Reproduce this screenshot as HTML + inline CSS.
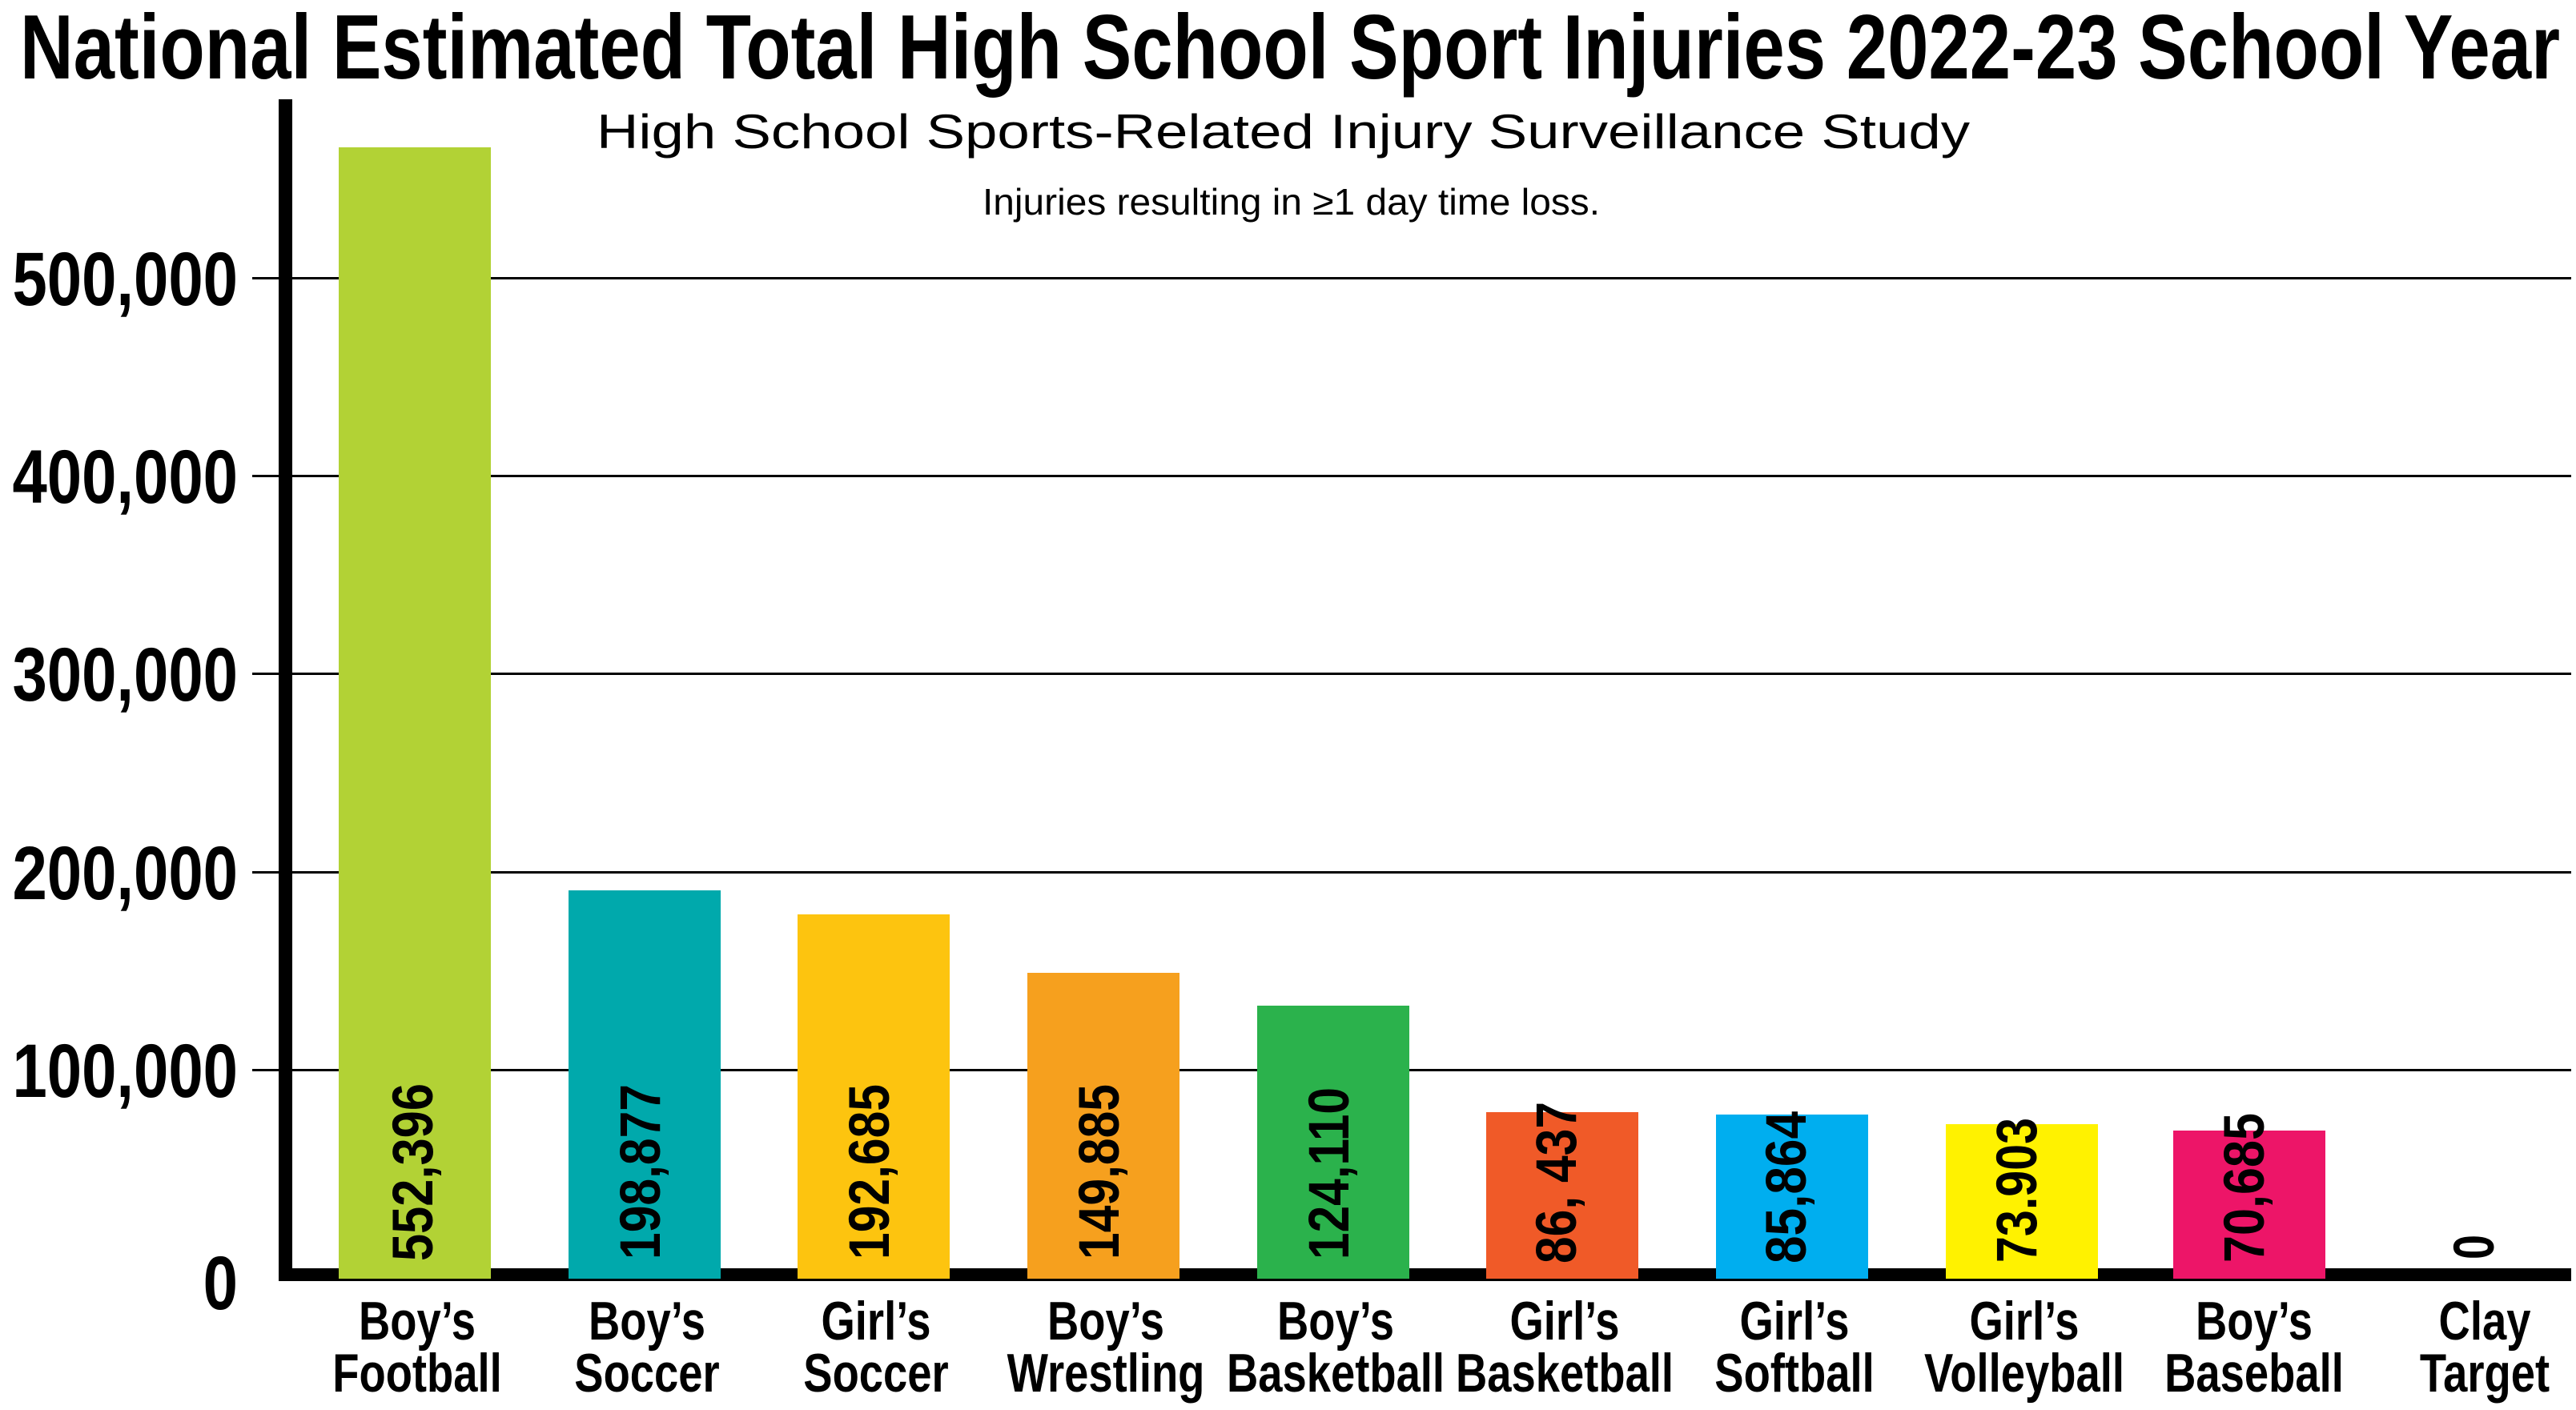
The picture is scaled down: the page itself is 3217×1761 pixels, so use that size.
<!DOCTYPE html>
<html><head><meta charset="utf-8"><style>
html,body{margin:0;padding:0;background:#fff;width:3217px;height:1761px;overflow:hidden}
svg{display:block}
text{font-family:"Liberation Sans",sans-serif}
</style></head><body>
<svg width="3217" height="1761" viewBox="0 0 3217 1761" xmlns="http://www.w3.org/2000/svg">
<rect width="3217" height="1761" fill="#fff"/>
<text x="25" y="98" font-size="114" font-weight="bold" textLength="3172" lengthAdjust="spacingAndGlyphs">National Estimated Total High School Sport Injuries 2022-23 School Year</text>
<text x="745" y="185" font-size="60" textLength="1715" lengthAdjust="spacingAndGlyphs">High School Sports-Related Injury Surveillance Study</text>
<text x="1227" y="268" font-size="46" textLength="771" lengthAdjust="spacingAndGlyphs">Injuries resulting in ≥1 day time loss.</text>
<g fill="#000">
<rect x="315" y="346" width="2896" height="3"/>
<rect x="315" y="593" width="2896" height="3"/>
<rect x="315" y="840" width="2896" height="3"/>
<rect x="315" y="1088" width="2896" height="3"/>
<rect x="315" y="1335" width="2896" height="3"/>
<rect x="348" y="124" width="17" height="1476"/>
<rect x="348" y="1584" width="2863" height="16"/>
</g>
<g font-size="95" font-weight="bold" text-anchor="end" transform="translate(297,0) scale(0.82,1)">
<text x="0" y="381">500,000</text>
<text x="0" y="628">400,000</text>
<text x="0" y="875">300,000</text>
<text x="0" y="1123">200,000</text>
<text x="0" y="1370">100,000</text>
<text x="0" y="1635">0</text>
</g>
<rect x="423" y="184" width="190" height="1413" fill="#b2d235"/>
<rect x="710" y="1112" width="190" height="485" fill="#00a9ac"/>
<rect x="996" y="1142" width="190" height="455" fill="#fdc40f"/>
<rect x="1283" y="1215" width="190" height="382" fill="#f6a01e"/>
<rect x="1570" y="1256" width="190" height="341" fill="#2bb24c"/>
<rect x="1856" y="1389" width="190" height="208" fill="#f05a28"/>
<rect x="2143" y="1392" width="190" height="205" fill="#00aeef"/>
<rect x="2430" y="1404" width="190" height="193" fill="#fff200"/>
<rect x="2714" y="1412" width="190" height="185" fill="#ed1568"/>
<g font-size="71" font-weight="bold">
<text transform="translate(540,1575) rotate(-90)" textLength="222" lengthAdjust="spacingAndGlyphs">552,396</text>
<text transform="translate(824,1573) rotate(-90)" textLength="219" lengthAdjust="spacingAndGlyphs">198,877</text>
<text transform="translate(1110,1573) rotate(-90)" textLength="219" lengthAdjust="spacingAndGlyphs">192,685</text>
<text transform="translate(1397,1573) rotate(-90)" textLength="219" lengthAdjust="spacingAndGlyphs">149,885</text>
<text transform="translate(1684,1573) rotate(-90)" textLength="215" lengthAdjust="spacingAndGlyphs">124,110</text>
<text transform="translate(1968,1578) rotate(-90)" textLength="202" lengthAdjust="spacingAndGlyphs">86, 437</text>
<text transform="translate(2255,1578) rotate(-90)" textLength="190" lengthAdjust="spacingAndGlyphs">85,864</text>
<text transform="translate(2543,1577) rotate(-90)" textLength="181" lengthAdjust="spacingAndGlyphs">73.903</text>
<text transform="translate(2827,1577) rotate(-90)" textLength="187" lengthAdjust="spacingAndGlyphs">70,685</text>
<text transform="translate(3114,1573) rotate(-90)" textLength="31" lengthAdjust="spacingAndGlyphs">0</text>
</g>
<g font-size="68" font-weight="bold" text-anchor="middle">
<g transform="translate(521,0) scale(0.8,1)"><text x="0" y="1673">Boy’s</text><text x="0" y="1738">Football</text></g>
<g transform="translate(808,0) scale(0.8,1)"><text x="0" y="1673">Boy’s</text><text x="0" y="1738">Soccer</text></g>
<g transform="translate(1094,0) scale(0.8,1)"><text x="0" y="1673">Girl’s</text><text x="0" y="1738">Soccer</text></g>
<g transform="translate(1381,0) scale(0.8,1)"><text x="0" y="1673">Boy’s</text><text x="0" y="1738">Wrestling</text></g>
<g transform="translate(1668,0) scale(0.8,1)"><text x="0" y="1673">Boy’s</text><text x="0" y="1738">Basketball</text></g>
<g transform="translate(1954,0) scale(0.8,1)"><text x="0" y="1673">Girl’s</text><text x="0" y="1738">Basketball</text></g>
<g transform="translate(2241,0) scale(0.8,1)"><text x="0" y="1673">Girl’s</text><text x="0" y="1738">Softball</text></g>
<g transform="translate(2528,0) scale(0.8,1)"><text x="0" y="1673">Girl’s</text><text x="0" y="1738">Volleyball</text></g>
<g transform="translate(2815,0) scale(0.8,1)"><text x="0" y="1673">Boy’s</text><text x="0" y="1738">Baseball</text></g>
<g transform="translate(3103,0) scale(0.8,1)"><text x="0" y="1673">Clay</text><text x="0" y="1738">Target</text></g>
</g>
</svg>
</body></html>
